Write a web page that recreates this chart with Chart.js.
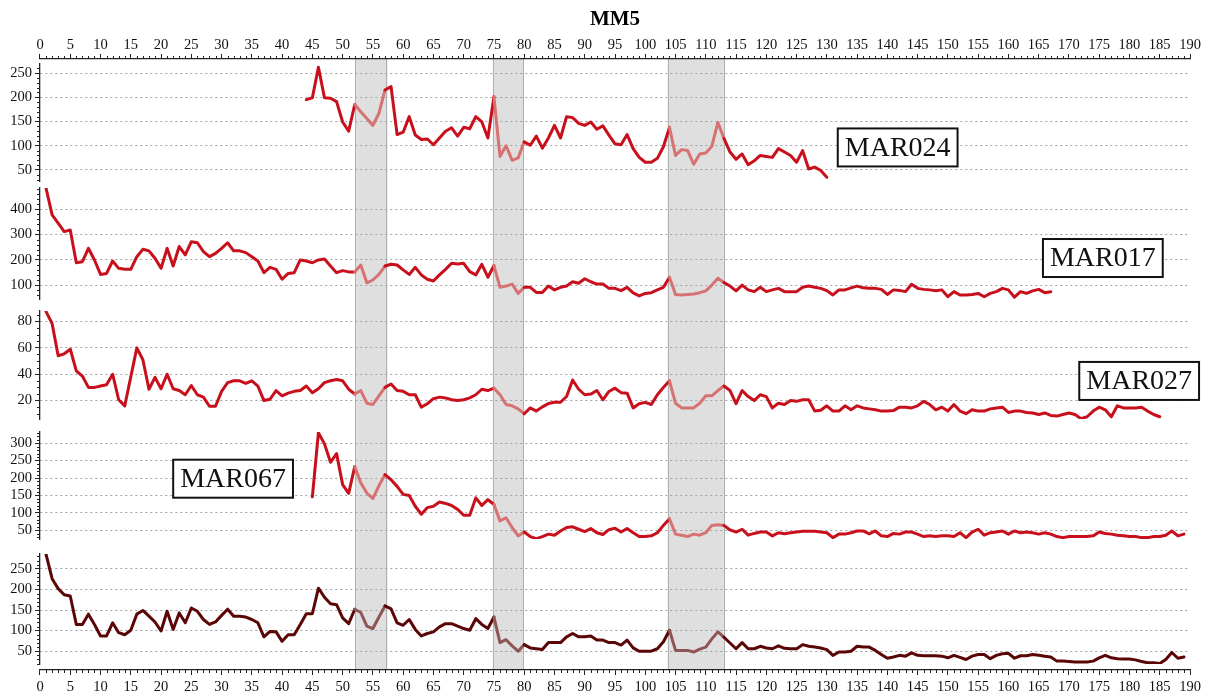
<!DOCTYPE html>
<html>
<head>
<meta charset="utf-8">
<title>MM5</title>
<script src="https://cdn.jsdelivr.net/npm/chart.js@4.4.1/dist/chart.umd.min.js"></script>
<style>
  html, body { margin: 0; padding: 0; background: #ffffff; }
  #wrap { position: relative; width: 1210px; height: 691px; }
</style>
</head>
<body>
<div id="wrap"><canvas id="chart"></canvas></div>
<script>
// ---------------- data ----------------
const chartTitle = 'MM5';
const xTickValues = [0,5,10,15,20,25,30,35,40,45,50,55,60,65,70,75,80,85,90,95,100,105,110,115,120,125,130,135,140,145,150,155,160,165,170,175,180,185,190];
const p1Ticks = [50,100,150,200,250];
const p2Ticks = [100,200,300,400];
const p3Ticks = [20,40,60,80];
const p4Ticks = [50,100,150,200,250,300];
const p5Ticks = [50,100,150,200,250];

// shaded x-ranges
const shadedRanges = [[52.1,57.4],[74.8,79.9],[103.7,113.1]];

const MAR024_START = 44;
const MAR024 = [195,199,262,199,198,191,149,130,185,
  170,156,142,167,215,222,123,128,160,122,
  113,114,102,116,130,137,120,138,135,160,
  149,116,201,78,100,70,75,108,101,120,
  95,116,142,116,160,158,146,142,149,134,
  141,122,104,102,123,94,76,66,66,74,
  98,138,80,92,90,62,83,85,99,148,
  115,87,72,83,61,69,80,78,76,94,
  87,80,66,90,52,56,49,35];

const MAR017_START = 1;
const MAR017 = [483,378,345,312,318,189,193,246,200,143,
  147,196,167,163,163,213,242,236,207,167,
  246,176,253,220,272,268,233,213,226,246,
  268,236,236,229,213,196,150,171,163,124,
  147,150,200,196,189,200,204,176,150,158,
  153,153,180,110,121,143,176,183,180,161,
  143,171,141,124,117,141,163,187,184,187,
  154,141,183,132,178,92,97,105,68,92,
  92,72,72,97,82,92,97,114,108,126,
  114,105,105,88,88,79,92,70,58,68,
  71,82,92,132,64,62,64,66,71,78,
  101,128,111,97,78,101,82,75,92,75,
  82,88,75,75,75,92,97,92,88,79,
  62,82,82,90,97,90,88,88,84,64,
  82,80,75,104,88,84,82,79,82,55,
  75,62,62,64,68,55,68,75,88,82,
  53,75,68,78,84,71,75];

const MAR027_START = 1;
const MAR027 = [87.5,78.5,54,55.5,59,42.6,38.6,30,30,31,
  32,40,20.6,16,38,60,51,28.6,37.6,29,
  40,29,27.6,24.4,31.4,24.4,22.6,15.7,15.7,27,
  33.6,35,35,33,35,31,20,21,27.6,23.6,
  25.6,27,27.6,31,26,29,33.6,35,36,35,
  28.6,25,27.6,18,17,23.6,30,32.6,27.6,27,
  24.4,24.4,15,17.6,21.4,22.6,22,20.6,20,20.6,
  22,24.4,28.6,27.6,29.4,24.4,17,16,13.7,10,
  14.4,12,15.2,17.7,18.7,18.7,23.1,35.6,28.6,24.4,
  24.9,27.6,20.6,26.9,29.4,26,25.6,14.4,17.6,18.6,
  17,24.4,30,35,18,14.4,14.4,14.4,18,23.6,
  23.6,27.6,31,27.6,17.6,27.6,23,20,24.4,23,
  14.4,18,17,20,19.4,20.6,20.6,12,12.7,16,
  12,12,16,13,16,14.4,13.7,13,12,12,
  12.4,15,15,14.4,16,19.4,17,13,15,12,
  17,12,10,13,12,12,13.7,14.4,15,11,
  12,12,11,10.6,9.4,10.6,8.7,8.2,9.4,10.6,
  9.4,6.2,7.7,12,15,13,7.7,16,14.4,14.4,
  14.4,15,12,9.4,7.7];

const MAR067_START = 45;
const MAR067 = [146,330,298,245,270,181,156,233,186,157,
  141,178,210,195,176,153,150,119,96,115,
  119,131,127,121,110,93,93,143,121,138,
  124,77,86,58,34,45,32,26,32,39,
  36,48,58,60,53,46,55,43,38,52,
  56,45,55,43,32,32,34,43,64,83,
  39,36,32,39,36,43,64,66,64,51,
  45,53,36,41,45,45,34,43,40,43,
  45,47,47,47,45,43,29,39,39,43,
  48,48,40,48,34,32,41,39,45,45,
  39,32,34,32,34,34,32,43,29,45,
  53,36,43,45,48,39,48,43,45,43,
  39,43,39,32,29,32,32,32,32,34,
  45,41,39,36,34,32,32,29,29,32,
  32,36,48,34,39];

const MM5_START = 1;
const MM5 = [285,226,202,187,184,115,115,140,115,87,
  87,119,95,90,101,140,149,135,121,99,
  147,103,143,119,155,147,127,115,121,137,
  152,135,135,133,127,119,85,98,97,74,
  90,90,115,141,141,203,181,165,163,131,
  117,152,144,111,105,133,160,153,119,113,
  127,103,87,93,97,109,117,117,111,105,
  101,129,115,105,133,71,78,63,50,66,
  58,56,54,71,71,71,85,93,85,85,
  87,77,77,71,71,65,77,58,50,50,
  50,56,73,101,52,52,52,48,55,60,
  80,97,84,70,56,71,56,56,62,58,
  56,63,57,56,56,66,62,60,58,54,
  40,48,48,50,62,60,60,52,42,33,
  36,40,38,46,40,39,39,39,38,34,
  40,35,30,38,42,42,32,40,44,45,
  33,39,39,42,40,38,36,26,26,25,
  24,24,24,26,34,40,34,32,31,31,
  29,25,22,22,20,30,47,33,36];

// ---------------- styling ----------------
const FONT = "'Liberation Serif', 'DejaVu Serif', serif";
const RED = '#c8101c', RED_SOFT = '#d67272';
const DARK = '#5a0606', DARK_SOFT = '#8e5555';

// boxed series labels, anchored in data units of each panel
const seriesBoxes = [
  {text: 'MAR024', axis: 'p1', x: 141.7, y: 96.5},
  {text: 'MAR017', axis: 'p2', x: 175.6, y: 207.7},
  {text: 'MAR027', axis: 'p3', x: 181.6, y: 34.9},
  {text: 'MAR067', axis: 'p4', x: 31.9, y: 198}
];
const minorSteps = {x: 1, x2: 1, p1: 10, p2: 20, p3: 5, p4: 10, p5: 10};

function inShade(x) { return shadedRanges.some(r => x > r[0] && x < r[1]); }
function toPoints(start, values) { return values.map((v, i) => ({x: start + i, y: v})); }
function lineDataset(label, start, values, axis, color, soft) {
  return {
    label, data: toPoints(start, values), xAxisID: 'x', yAxisID: axis,
    borderColor: color, borderWidth: 3, pointRadius: 0, pointHoverRadius: 0,
    fill: false, tension: 0, borderJoinStyle: 'round', borderCapStyle: 'round',
    segment: { borderColor: c => inShade((c.p0.parsed.x + c.p1.parsed.x) / 2) ? soft : color }
  };
}
function panelAxis(min, max, ticks, layoutWeight, stackWeight) {
  return {
    type: 'linear', axis: 'y', position: 'left', stack: 'panels', stackWeight, weight: layoutWeight,
    min, max,
    afterFit: s => { s.width = 40; },
    afterBuildTicks: s => { s.ticks = ticks.map(v => ({value: v})); },
    ticks: { font: {family: FONT, size: 14.5}, color: '#111', padding: 3, autoSkip: false },
    grid: { color: '#a2a2a2', lineWidth: 1, tickColor: '#222', tickLength: 5, tickWidth: 1 },
    border: { display: true, color: '#222', width: 1.3, dash: [2, 3] }
  };
}
function gapAxis(layoutWeight, stackWeight) {
  return {
    type: 'linear', axis: 'y', position: 'left', stack: 'panels', stackWeight, weight: layoutWeight,
    min: 0, max: 1, afterFit: s => { s.width = 40; },
    ticks: {display: false}, grid: {display: false}, border: {display: false}
  };
}
function xAxis(position, height, title) {
  return {
    type: 'linear', axis: 'x', position, min: 0, max: 190,
    afterFit: s => { s.height = height; },
    afterBuildTicks: s => { s.ticks = xTickValues.map(v => ({value: v})); },
    ticks: { font: {family: FONT, size: 14.5}, color: '#111', padding: position === 'top' ? 0 : 3, maxRotation: 0, autoSkip: false },
    grid: { drawOnChartArea: false, drawTicks: true, tickLength: 5, color: '#222', tickColor: '#222' },
    border: { display: true, color: '#222', width: 1.3 },
    title: title ? { display: true, text: title, color: '#000',
      font: {family: FONT, size: 21, weight: 'bold'}, padding: {top: 7, bottom: 0} } : {display: false}
  };
}

const shadePlugin = {
  id: 'shade',
  beforeDraw(chart) {
    const {ctx, chartArea: a, scales: {x}} = chart;
    ctx.save();
    for (const [r0, r1] of shadedRanges) {
      const l = x.getPixelForValue(r0), r = x.getPixelForValue(r1);
      ctx.fillStyle = '#dfdfdf';
      ctx.fillRect(l, a.top, r - l, a.bottom - a.top);
      ctx.strokeStyle = '#b0b0b0'; ctx.lineWidth = 1;
      ctx.beginPath();
      ctx.moveTo(Math.round(l) + 0.5, a.top); ctx.lineTo(Math.round(l) + 0.5, a.bottom);
      ctx.moveTo(Math.round(r) - 0.5, a.top); ctx.lineTo(Math.round(r) - 0.5, a.bottom);
      ctx.stroke();
    }
    ctx.restore();
  }
};
const minorTickPlugin = {
  id: 'minorTicks',
  afterDraw(chart) {
    const ctx = chart.ctx;
    ctx.save(); ctx.strokeStyle = '#222'; ctx.lineWidth = 1; ctx.setLineDash([]);
    for (const id in minorSteps) {
      const s = chart.scales[id]; const step = minorSteps[id];
      const start = Math.ceil(s.min / step - 1e-9) * step;
      for (let v = start; v <= s.max + 1e-9; v += step) {
        if (s.ticks.some(t => Math.abs(t.value - v) < 1e-6)) continue;
        const p = Math.round(s.getPixelForValue(v)) + 0.5;
        ctx.beginPath();
        if (id === 'x') { ctx.moveTo(p, s.top); ctx.lineTo(p, s.top + 3); }
        else if (id === 'x2') { ctx.moveTo(p, s.bottom - 3); ctx.lineTo(p, s.bottom); }
        else { ctx.moveTo(s.right - 3, p); ctx.lineTo(s.right, p); }
        ctx.stroke();
      }
    }
    ctx.restore();
  }
};
const boxPlugin = {
  id: 'seriesBoxes',
  afterDatasetsDraw(chart) {
    const ctx = chart.ctx;
    ctx.save();
    ctx.font = '28px ' + FONT; ctx.textAlign = 'center'; ctx.textBaseline = 'middle';
    for (const b of seriesBoxes) {
      const cx = chart.scales.x.getPixelForValue(b.x);
      const cy = chart.scales[b.axis].getPixelForValue(b.y);
      const w = ctx.measureText(b.text).width + 14, h = 38;
      ctx.fillStyle = '#fff'; ctx.fillRect(cx - w / 2, cy - h / 2, w, h);
      ctx.lineWidth = 2; ctx.strokeStyle = '#111'; ctx.strokeRect(cx - w / 2, cy - h / 2, w, h);
      ctx.fillStyle = '#111'; ctx.fillText(b.text, cx, cy + 1);
    }
    ctx.restore();
  }
};

new Chart(document.getElementById('chart'), {
  type: 'line',
  data: {
    datasets: [
      lineDataset('MAR024', MAR024_START, MAR024, 'p1', RED, RED_SOFT),
      lineDataset('MAR017', MAR017_START, MAR017, 'p2', RED, RED_SOFT),
      lineDataset('MAR027', MAR027_START, MAR027, 'p3', RED, RED_SOFT),
      lineDataset('MAR067', MAR067_START, MAR067, 'p4', RED, RED_SOFT),
      lineDataset('MM5', MM5_START, MM5, 'p5', DARK, DARK_SOFT)
    ]
  },
  options: {
    responsive: true, maintainAspectRatio: false, animation: false,
    layout: { padding: {top: 0, left: 0, right: 20, bottom: 0} },
    plugins: { legend: {display: false}, tooltip: {enabled: false}, title: {display: false} },
    scales: {
      x: xAxis('bottom', 21, null),
      x2: xAxis('top', 59, chartTitle),
      g0: gapAxis(11, 5),
      p1: panelAxis(27.3, 268.6, p1Ticks, 10, 117),
      g1: gapAxis(9, 7),
      p2: panelAxis(46, 484, p2Ticks, 8, 111),
      g2: gapAxis(7, 12),
      p3: panelAxis(6, 88, p3Ticks, 6, 108),
      g3: gapAxis(5, 13),
      p4: panelAxis(25, 332, p4Ticks, 4, 107),
      g4: gapAxis(3, 15),
      p5: panelAxis(19, 286, p5Ticks, 2, 110),
      g5: gapAxis(1, 6)
    }
  },
  plugins: [shadePlugin, minorTickPlugin, boxPlugin]
});
</script>
</body>
</html>
